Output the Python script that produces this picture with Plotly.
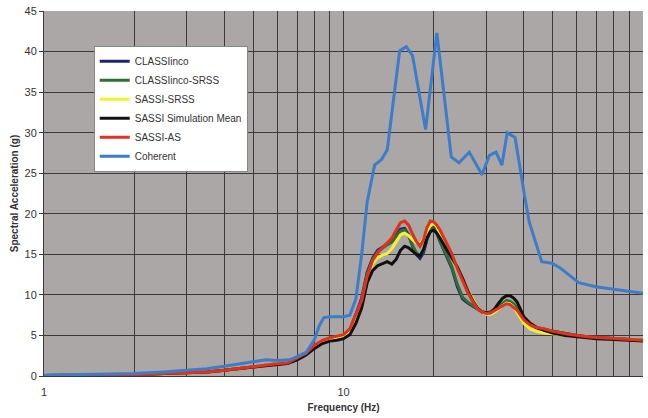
import plotly.graph_objects as go

# Frequency points (Hz) shared by the five SSI response spectra
freq = [1.0, 1.5, 2.0, 2.5, 3.0, 3.5, 4.0, 4.5, 5.0, 5.5, 6.0, 6.5, 7.0, 7.5, 8.0, 8.5,
        9.0, 9.5, 10.0, 10.5, 11.0, 11.5, 12.0, 12.5, 13.0, 13.5, 14.0, 14.5, 15.0, 15.5,
        16.0, 16.5, 17.0, 17.5, 18.0, 18.5, 19.0, 19.5, 20.0, 20.5, 21.0, 22.0, 23.0, 24.0,
        25.0, 26.0, 27.0, 28.0, 29.0, 30.0, 31.0, 32.0, 33.0, 34.0, 35.0, 36.0, 37.0, 38.0,
        39.0, 40.0, 42.0, 44.0, 47.0, 50.0, 55.0, 60.0, 65.0, 70.0, 80.0, 90.0, 100.0]

classi = [0.05, 0.08, 0.15, 0.3, 0.4, 0.5, 0.7, 0.95, 1.2, 1.4, 1.5, 1.6, 2.1, 2.7, 3.7, 4.3,
          4.6, 4.8, 5.0, 5.7, 7.6, 9.6, 12.8, 14.5, 15.5, 15.9, 16.3, 16.6, 17.4, 18.1,
          18.2, 17.4, 16.0, 15.0, 14.5, 15.2, 16.8, 18.0, 18.3, 17.6, 16.6, 14.8, 13.3, 11.0,
          9.5, 9.0, 8.6, 8.2, 7.9, 7.8, 7.9, 8.2, 8.6, 8.9, 9.2, 9.1, 8.8, 8.3,
          7.6, 7.0, 6.4, 6.0, 5.7, 5.5, 5.2, 5.0, 4.85, 4.75, 4.6, 4.5, 4.4]

classi_srss = [0.05, 0.08, 0.15, 0.3, 0.4, 0.5, 0.7, 0.95, 1.2, 1.4, 1.5, 1.6, 2.1, 2.7, 3.6, 4.2,
               4.5, 4.7, 4.9, 5.6, 7.4, 9.4, 12.6, 14.3, 15.3, 15.8, 16.2, 16.5, 17.2, 17.9,
               18.0, 17.3, 16.1, 15.2, 14.8, 15.4, 16.9, 18.0, 18.2, 17.6, 16.7, 15.0, 13.5, 11.3,
               9.7, 9.1, 8.7, 8.3, 7.9, 7.8, 7.9, 8.2, 8.6, 9.0, 9.3, 9.2, 8.9, 8.4,
               7.7, 7.0, 6.4, 6.0, 5.7, 5.5, 5.2, 5.0, 4.85, 4.75, 4.6, 4.5, 4.4]

sassi_srss = [0.05, 0.08, 0.15, 0.3, 0.4, 0.5, 0.7, 0.95, 1.2, 1.4, 1.5, 1.6, 2.1, 2.6, 3.5, 4.1,
              4.4, 4.6, 4.8, 5.4, 7.1, 9.0, 12.0, 13.8, 14.6, 14.9, 15.1, 15.7, 16.6, 17.4,
              17.6, 17.3, 16.8, 16.4, 16.3, 16.9, 17.8, 18.6, 18.8, 18.4, 17.6, 16.0, 14.6, 13.2,
              11.8, 10.5, 9.4, 8.5, 7.9, 7.6, 7.6, 7.9, 8.3, 8.7, 9.0, 8.9, 8.5, 7.8,
              7.1, 6.5, 5.8, 5.5, 5.3, 5.2, 5.0, 4.85, 4.75, 4.65, 4.55, 4.45, 4.4]

sassi_mean = [0.05, 0.08, 0.15, 0.3, 0.4, 0.5, 0.7, 0.9, 1.1, 1.3, 1.45, 1.55, 2.0, 2.6, 3.4, 4.0,
              4.3, 4.4, 4.6, 5.1, 6.5, 8.4, 11.5, 13.0, 13.6, 13.9, 14.1, 13.8, 14.4, 15.5,
              16.0, 15.8, 15.4, 15.0, 14.8, 15.6, 17.0, 17.8, 18.0, 17.6, 17.0, 15.8, 14.6, 13.4,
              12.0, 10.5, 9.3, 8.4, 7.9, 7.8, 7.8, 8.3, 9.0, 9.6, 9.9, 9.9, 9.6, 9.1,
              8.2, 7.3, 6.5, 6.0, 5.6, 5.3, 5.0, 4.85, 4.7, 4.6, 4.5, 4.4, 4.3]

sassi_as = [0.05, 0.08, 0.15, 0.3, 0.4, 0.5, 0.7, 0.95, 1.2, 1.4, 1.5, 1.6, 2.2, 2.8, 3.8, 4.4,
            4.7, 4.9, 5.1, 5.8, 7.5, 9.3, 12.3, 14.2, 15.2, 15.8, 16.4, 17.0, 18.0, 18.9,
            19.1, 18.6, 17.5, 16.6, 16.0, 16.8, 18.3, 19.1, 19.0, 18.6, 18.0, 16.6, 15.1, 13.2,
            11.6, 10.3, 9.2, 8.3, 7.9, 7.7, 7.8, 8.1, 8.4, 8.7, 8.9, 8.8, 8.5, 8.1,
            7.5, 6.9, 6.3, 6.0, 5.8, 5.5, 5.2, 5.0, 4.85, 4.75, 4.6, 4.5, 4.4]

# Coherent input spectrum
freq_coh = [1.0, 1.5, 2.0, 2.5, 3.0, 3.5, 4.0, 4.5, 5.0, 5.5, 6.0, 6.6, 7.0, 7.5, 8.0, 8.3,
            8.6, 9.0, 10.0, 10.5, 11.0, 11.5, 12.0, 12.7, 13.4, 14.0, 15.4, 16.2, 17.0, 18.8,
            20.5, 22.9, 24.3, 26.3, 29.0, 30.7, 32.3, 33.8, 35.2, 37.4, 40.2, 41.7, 45.9, 49.7,
            53.0, 61.0, 69.5, 83.0, 100.0]
coherent = [0.1, 0.2, 0.3, 0.5, 0.7, 0.9, 1.2, 1.5, 1.8, 2.0, 1.9, 2.0, 2.4, 2.9, 4.5, 6.2,
            7.2, 7.3, 7.3, 7.5, 9.5, 15.0, 21.5, 26.0, 26.7, 27.9, 40.1, 40.6, 39.5, 30.4,
            42.3, 27.0, 26.3, 27.6, 24.8, 27.2, 27.6, 26.0, 30.0, 29.4, 22.3, 19.0, 14.1, 13.9,
            13.3, 11.5, 11.0, 10.6, 10.2]

series = [
    ("CLASSIinco", freq, classi, "#1b2570"),
    ("CLASSIinco-SRSS", freq, classi_srss, "#2f6e35"),
    ("SASSI-SRSS", freq, sassi_srss, "#f4f230"),
    ("SASSI Simulation Mean", freq, sassi_mean, "#111111"),
    ("SASSI-AS", freq, sassi_as, "#e0301e"),
    ("Coherent", freq_coh, coherent, "#3d7cc9"),
]

fig = go.Figure()
for name, x, y, color in series:
    fig.add_trace(go.Scatter(x=x, y=y, name=name, mode="lines",
                             line=dict(color=color, width=3)))

# Log grid: every integer within each decade, labels only on decades
xgrid = [m * d for d in (1, 10) for m in range(1, 10)] + [100]
xtext = [str(v) if v in (1, 10, 100) else "" for v in xgrid]

fig.update_layout(
    width=648, height=418,
    margin=dict(l=44, r=5, t=7, b=42),
    paper_bgcolor="white",
    plot_bgcolor="#aaa7a6",
    font=dict(family="Liberation Sans, Arial, sans-serif", size=11, color="#333333"),
    showlegend=True,
    legend=dict(
        x=0.083, y=0.905, xanchor="left", yanchor="top",
        bgcolor="white", bordercolor="#888888", borderwidth=1,
        font=dict(size=10, color="#333333"),
        itemwidth=30, tracegroupgap=0,
    ),
    xaxis=dict(
        type="log", range=[0, 2],
        tickmode="array", tickvals=xgrid, ticktext=xtext,
        showgrid=True, gridcolor="#3a3a3a", gridwidth=1,
        ticks="", showline=True, linecolor="#3a3a3a",
        ticklabelstandoff=6,
        title=dict(text="<b>Frequency (Hz)</b>", font=dict(size=10, color="#333333"), standoff=6),
        zeroline=False,
    ),
    yaxis=dict(
        range=[0, 45], dtick=5,
        showgrid=True, gridcolor="#3a3a3a", gridwidth=1,
        ticks="outside", ticklen=4, tickcolor="#3a3a3a",
        showline=True, linecolor="#3a3a3a",
        title=dict(text="<b>Spectral Acceleration (g)</b>", font=dict(size=10, color="#333333"), standoff=4),
        zeroline=False,
    ),
)

fig.write_html("out.html")
